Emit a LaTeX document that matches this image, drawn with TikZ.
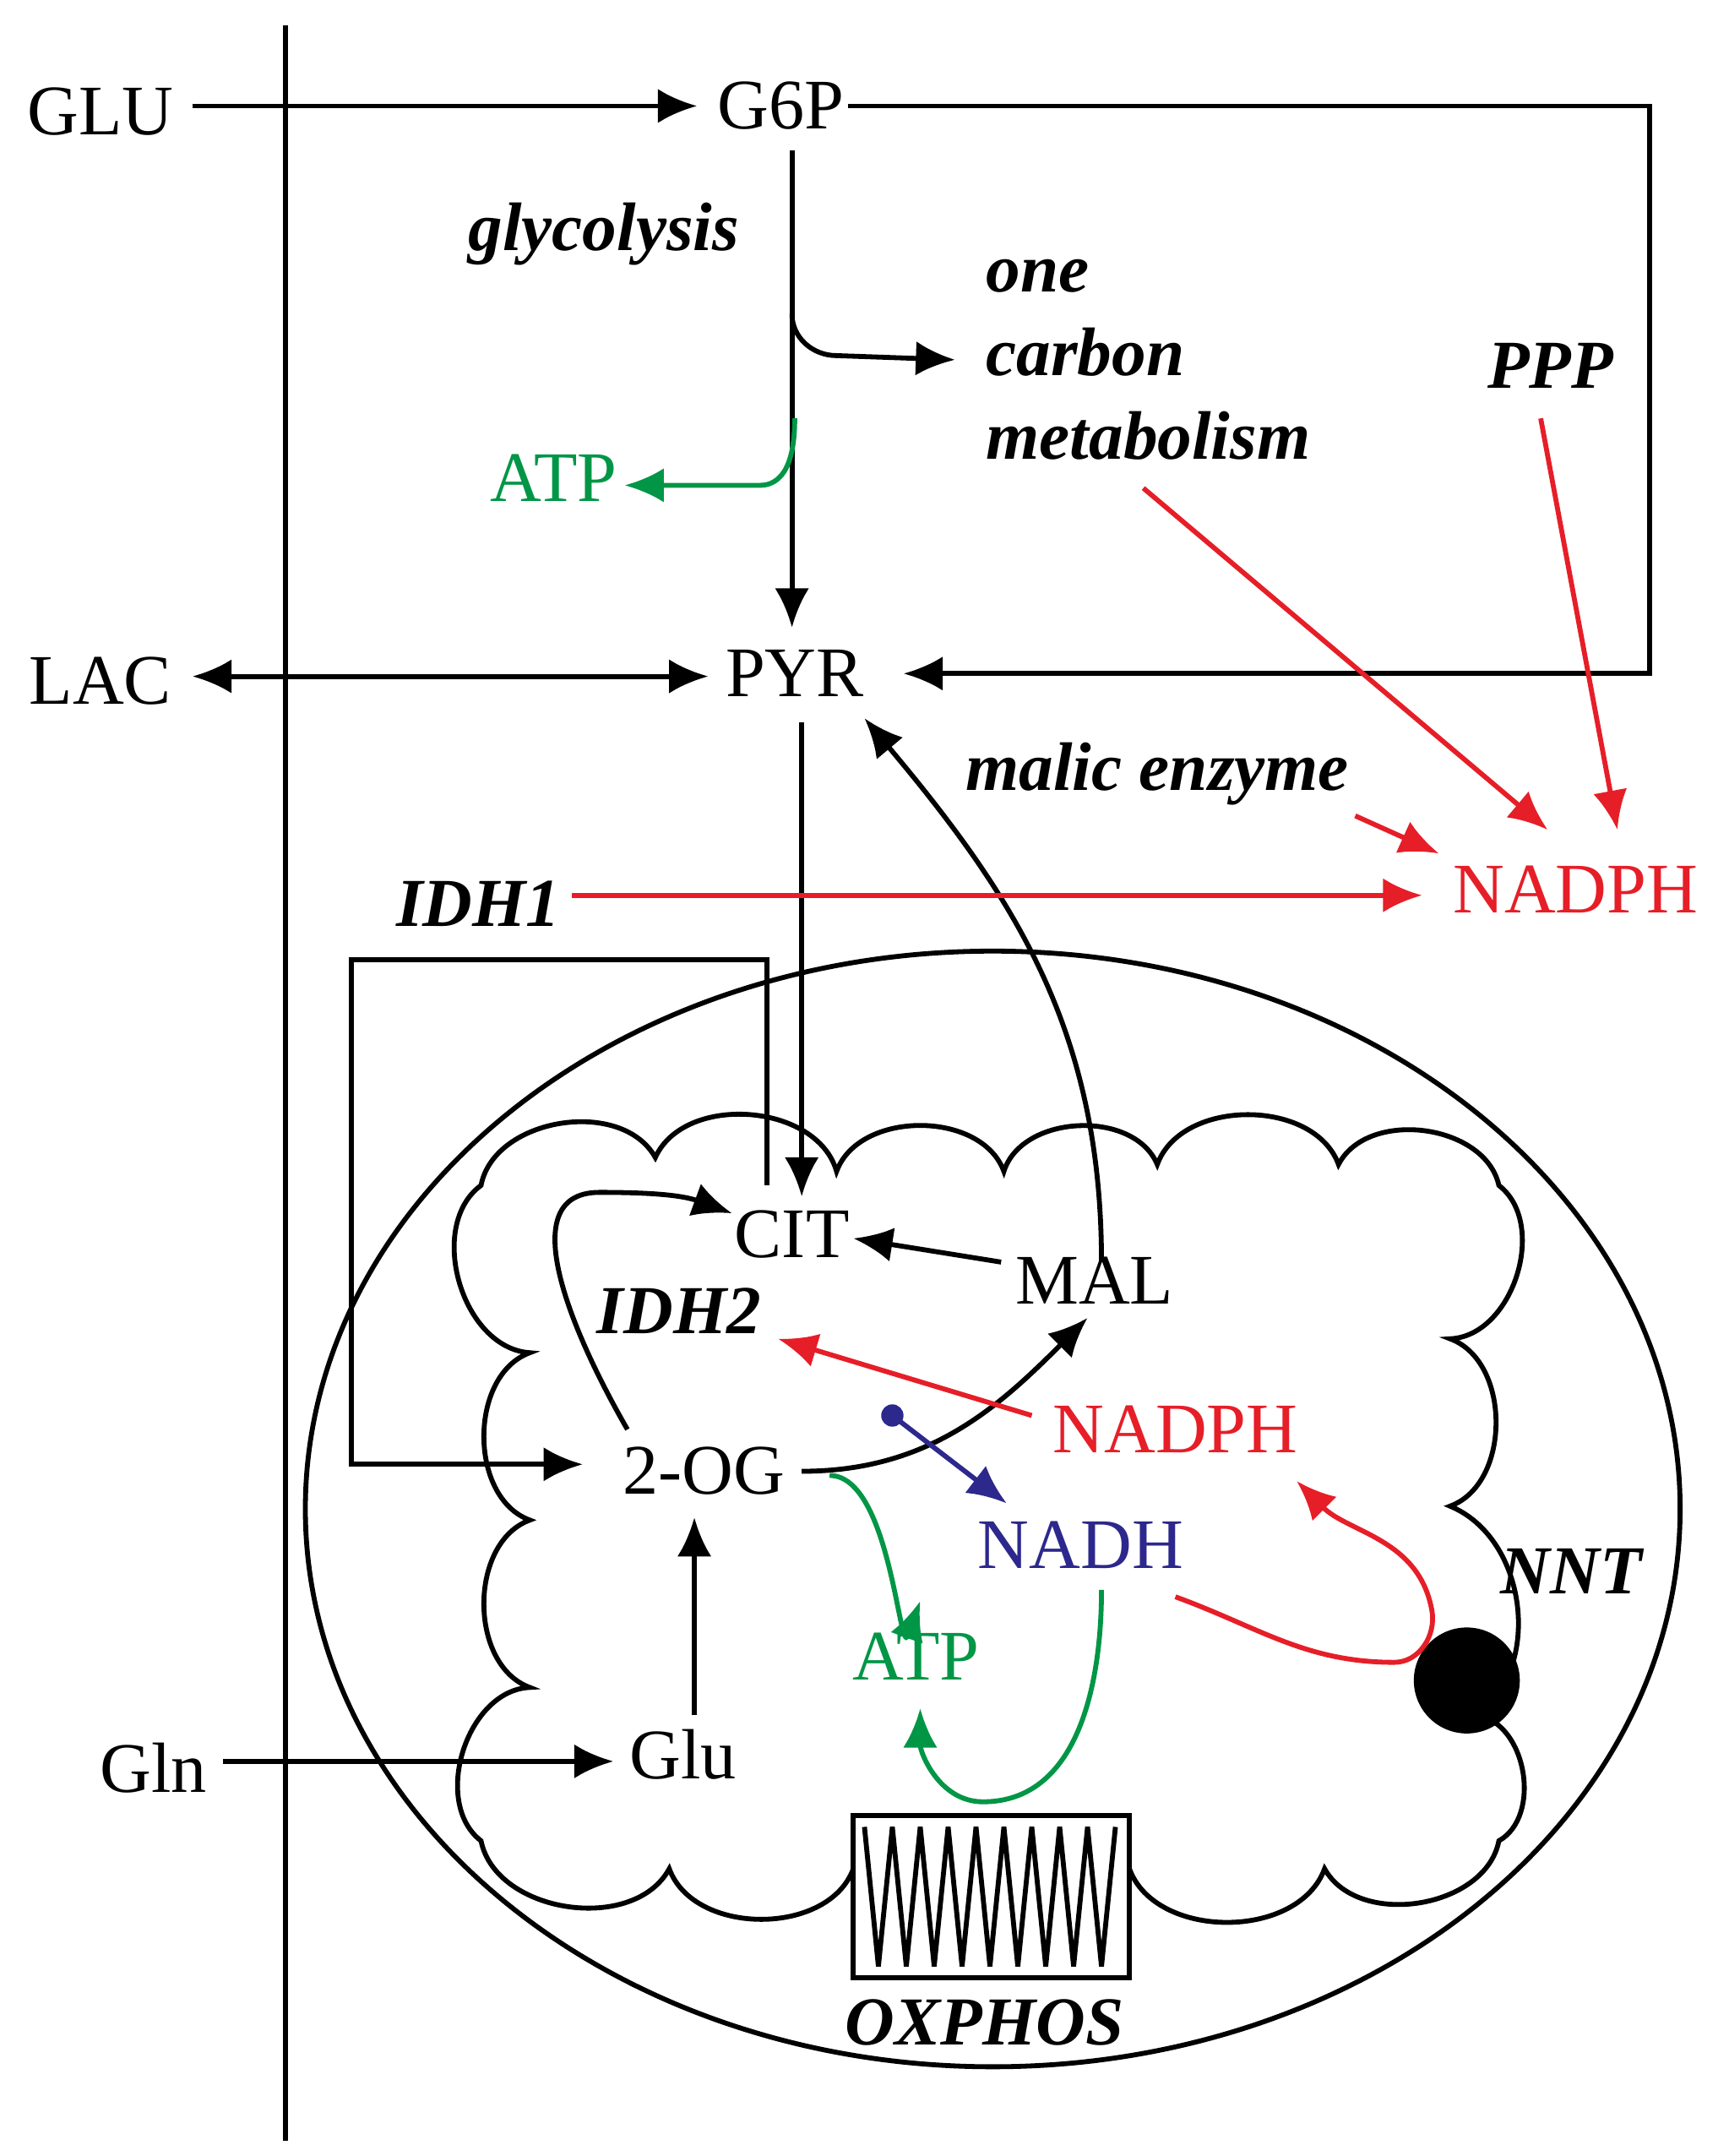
\documentclass[tikz,border=0pt]{standalone}
\usepackage{fontspec}
\setmainfont{Liberation Serif}
\usetikzlibrary{arrows.meta}
\definecolor{rd}{RGB}{230,30,40}
\definecolor{gr}{RGB}{0,150,70}
\definecolor{bl}{RGB}{45,40,140}
\begin{document}
\begin{tikzpicture}[x=0.01cm,y=-0.01cm,
 line width=1pt, >={Latex[length=8pt,width=7pt]},
 t/.style={font=\fontsize{14.5}{17}\selectfont,inner sep=1pt},
 bi/.style={font=\fontsize{14}{17}\selectfont\bfseries\itshape,inner sep=1pt},
 r/.style={draw=rd,->},
 g/.style={draw=gr,->}]
\useasboundingbox (0,0) rectangle (1240,1546);
\draw (205,18) -- (205,1535);
% texts
\node[t] (glu) at (72,80) {GLU};
\node[t] (g6p) at (560,76) {G6P};
\node[bi] (gly) at (433,168) {glycolysis};
\node[bi,align=left,anchor=west] (ocm) at (702,258) {one\\carbon\\metabolism};
\node[t,text=gr] (atp1) at (397,343) {ATP};
\node[bi] (ppp) at (1112,262) {PPP};
\node[t] (lac) at (72,488) {LAC};
\node[t] (pyr) at (570,483) {PYR};
\node[bi] (me) at (830,555) {malic enzyme};
\node[bi] (idh1) at (343,648) {IDH1};
\node[t,text=rd] (nadph1) at (1130,638) {NADPH};
\node[t] (cit) at (568,885) {CIT};
\node[t] (mal) at (785,918) {MAL};
\node[bi] (idh2) at (487,940) {IDH2};
\node[t] (og) at (505,1055) {2-OG};
\node[t,text=rd] (nadph2) at (843,1025) {NADPH};
\node[t,text=bl] (nadh) at (775,1108) {NADH};
\node[t,text=gr] (atp2) at (657,1188) {ATP};
\node[bi] (nnt) at (1127,1127) {NNT};
\node[t] (glu2) at (490,1258) {Glu};
\node[t] (gln) at (110,1268) {Gln};
\node[bi] (ox) at (706,1450) {OXPHOS};
% top
\draw[->] (138,76) -- (500,76);
\draw[->] (608,76) -- (1183,76) -- (1183,483) -- (648,483);
\draw[->] (568,108) -- (568,450);
\draw[->] (568,225) to[out=-90,in=180] (600,255) -- (685,258);
\draw[g] (570,300) to[out=-90,in=0] (545,348) -- (448,348);
\draw[<->] (138,485) -- (508,485);
\draw[->] (575,518) -- (575,858);
\draw[->] (790,905) to[out=90,in=-50] (620,515);
\draw[r] (820,350) -- (1110,595);
\draw[r] (1105,300) -- (1160,595);
\draw[r] (972,585) -- (1032,612);
\draw[r] (410,642) -- (1020,642);
% mitochondrion
\draw (712,1082) ellipse [x radius=493, y radius=400];
\draw (612,1340) to[bend left=70] (480,1340) to[bend left=70] (345,1320)
 to[bend left=70] (380,1210) to[bend left=70] (380,1090) to[bend left=70] (380,970)
 to[bend left=70] (345,850) to[bend left=70] (470,830) to[bend left=70] (600,840)
 to[bend left=70] (720,840) to[bend left=70] (830,835) to[bend left=70] (960,835)
 to[bend left=70] (1075,850) to[bend left=70] (1040,960) to[bend left=70] (1040,1080)
 to[bend left=60] (1060,1230) to[bend left=70] (1075,1320) to[bend left=70] (950,1340) to[bend left=70] (810,1340);
\draw[->] (718,905) -- (612,888);
\draw[->] (550,850) -- (550,688) -- (252,688) -- (252,1050) -- (418,1050);
\draw[->] (450,1025) to[out=120,in=180] (430,855) to[out=0,in=160] (525,870);
\draw[->] (575,1055) to[out=0,in=-135] (780,945);
\draw[r] (740,1015) -- (558,960);
\draw[bl,->] (640,1015) -- (722,1078);
\fill[bl] (640,1015) circle (8);
\draw[g] (595,1058) to[out=0,in=-110] (660,1148);
\draw[g] (790,1140) to[out=-90,in=0] (705,1292) to[out=180,in=-90] (660,1225);
\fill (1052,1205) circle (38);
\draw[r] (843,1145) to[out=-20,in=180] (1000,1192) to[out=0,in=-80] (1027,1155) to[out=100,in=-45] (930,1062);
\draw[->] (498,1230) -- (498,1088);
\draw[->] (160,1263) -- (440,1263);
% oxphos
\draw[fill=white] (612,1302) rectangle (810,1418);
\draw (620,1310) -- (630,1410) -- (640,1310) -- (650,1410) -- (660,1310) -- (670,1410) -- (680,1310) -- (690,1410) -- (700,1310) -- (710,1410) -- (720,1310) -- (730,1410) -- (740,1310) -- (750,1410) -- (760,1310) -- (770,1410) -- (780,1310) -- (790,1410) -- (800,1310);
\end{tikzpicture}
\end{document}
